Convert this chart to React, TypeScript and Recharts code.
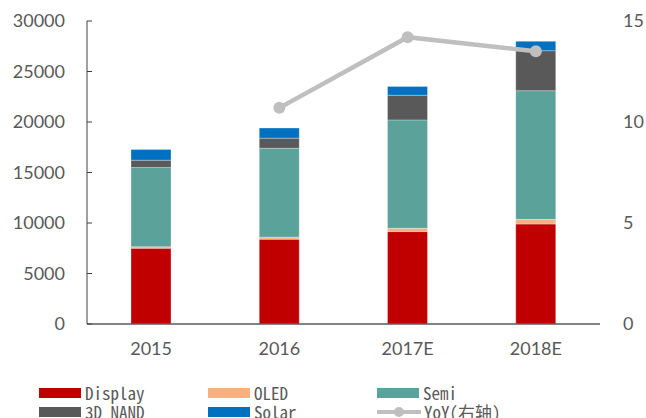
import { Bar, ComposedChart, Line, XAxis, YAxis } from "recharts";

const categories = ["2015", "2016", "2017E", "2018E"];
const display = [7500, 8400, 9150, 9900];
const oled = [150, 200, 330, 460];
const semi = [7850, 8800, 10730, 12740];
const nand = [720, 1000, 2440, 3960];
const solar = [1060, 1000, 860, 925];
const yoy: (number | null)[] = [null, 10.7, 14.2, 13.5];

const leftTicks = [0, 5000, 10000, 15000, 20000, 25000, 30000];
const rightTicks = [0, 5, 10, 15];
const boundaryTicks = [1, 2, 3, 4];

const barSeries = [
  { key: "display", name: "Display", color: "#C00000", values: display },
  { key: "oled", name: "OLED", color: "#F4B183", values: oled },
  { key: "semi", name: "Semi", color: "#5BA29B", values: semi },
  { key: "nand", name: "3D NAND", color: "#595959", values: nand },
  { key: "solar", name: "Solar", color: "#0070C0", values: solar },
];
const lineName = "YoY(右轴)";
const lineColor = "#BFBFBF";

const data = categories.map((c, i) => {
  const row: Record<string, string | number | null> = { name: c, yoy: yoy[i] };
  barSeries.forEach((s) => (row[s.key] = s.values[i]));
  return row;
});

const axisFont = { fontFamily: "Lato, 'Open Sans', sans-serif", fontSize: 18, fill: "#595959" };
const legendFont = "'Noto Sans Mono CJK SC', 'DejaVu Sans Mono', monospace";

function LegendBox() {
  const items = [...barSeries.map((s) => ({ name: s.name, color: s.color, line: false })), { name: lineName, color: lineColor, line: true }];
  const cols = [39, 208, 377];
  return (
    <>
      {items.map((it, i) => {
        const left = cols[i % 3];
        const top = 385 + Math.floor(i / 3) * 19;
        return (
          <div key={it.name} style={{ position: "absolute", left, top, display: "flex", alignItems: "center", height: 16 }}>
            {it.line ? (
              <svg width={44} height={14} style={{ marginRight: 3 }}>
                <line x1={1} y1={7} x2={43} y2={7} stroke={it.color} strokeWidth={4} strokeLinecap="round" />
                <circle cx={22} cy={7} r={5} fill={it.color} />
              </svg>
            ) : (
              <div style={{ width: 42, height: 10, background: it.color, marginRight: 4 }} />
            )}
            <span style={{ fontFamily: legendFont, fontSize: 17, color: "#595959", lineHeight: "16px", whiteSpace: "nowrap" }}>{it.name}</span>
          </div>
        );
      })}
    </>
  );
}

export default function App() {
  return (
    <div style={{ position: "relative", width: 646, height: 418, overflow: "hidden", background: "#fff" }}>
      <style>{`body{margin:0}`}</style>
      <ComposedChart width={646} height={418} data={data} margin={{ top: 21, right: 0, left: 0, bottom: 54 }}>
        <XAxis
          xAxisId="bounds"
          type="number"
          domain={[0, 4]}
          ticks={boundaryTicks}
          allowDataOverflow
          height={0}
          tick={false}
          axisLine={false}
          tickSize={-6}
          tickLine={{ stroke: "#404040", strokeWidth: 1 }}
        />
        <XAxis
          dataKey="name"
          height={40}
          tickLine={false}
          tickMargin={12}
          axisLine={{ stroke: "#595959", strokeWidth: 1.5 }}
          tick={axisFont}
        />
        <YAxis
          yAxisId="left"
          width={87}
          domain={[0, 30000]}
          ticks={leftTicks}
          tickSize={-5}
          tickMargin={27}
          axisLine={{ stroke: "#404040" }}
          tickLine={{ stroke: "#404040" }}
          tick={axisFont}
        />
        <YAxis
          yAxisId="right"
          orientation="right"
          width={46}
          domain={[0, 15]}
          ticks={rightTicks}
          axisLine={false}
          tickLine={false}
          tickMargin={17}
          tick={{ ...axisFont, textAnchor: "start" }}
        />
        {barSeries.map((s) => (
          <Bar
            key={s.key}
            yAxisId="left"
            dataKey={s.key}
            name={s.name}
            stackId="a"
            fill={s.color}
            barSize={40}
            stroke="#ffffff"
            strokeOpacity={0.5}
            strokeWidth={0.6}
            isAnimationActive={false}
          />
        ))}
        <Line
          yAxisId="right"
          dataKey="yoy"
          name={lineName}
          stroke={lineColor}
          strokeWidth={4.5}
          dot={{ r: 6, fill: lineColor, stroke: lineColor, strokeWidth: 0 }}
          activeDot={false}
          isAnimationActive={false}
        />
      </ComposedChart>
      <LegendBox />
    </div>
  );
}
